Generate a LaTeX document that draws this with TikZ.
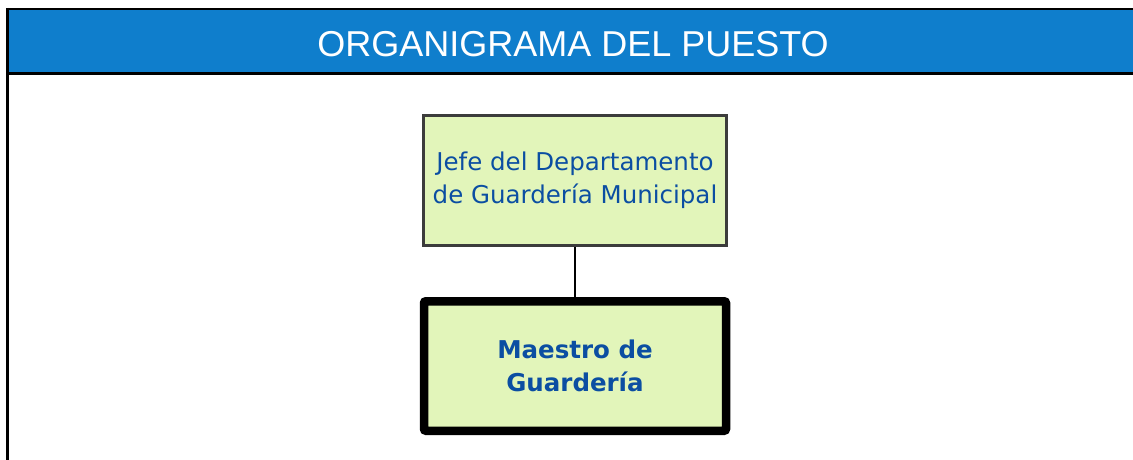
\documentclass[tikz,border=0pt]{standalone}
\usepackage{fontspec}
\setmainfont{Liberation Sans}
\newfontfamily\cajafont{DejaVu Sans}
\definecolor{azulhead}{HTML}{0F7ECC}
\definecolor{verdecaja}{HTML}{E2F5BA}
\definecolor{azultexto}{HTML}{0B4EA2}
\definecolor{grisborde}{HTML}{3C3C3C}

\begin{document}
\begin{tikzpicture}
[
    x=1pt, y=-1pt,
    level 1/.style={level distance=186pt},
    jefebox/.style={draw=grisborde, line width=3pt, fill=verdecaja, inner sep=0pt,
        minimum width=302.7pt, minimum height=130pt, align=center,
        text=azultexto, font=\cajafont\fontsize{24.5}{32.5}\selectfont},
    maestrobox/.style={draw=black, line width=8.5pt, fill=verdecaja, inner sep=0pt,
        rounded corners=2pt, minimum width=302pt, minimum height=129.5pt, align=center,
        text=azultexto, font=\cajafont\bfseries\fontsize{24.5}{32.5}\selectfont},
    edge from parent/.style={draw, black, line width=2.5pt},
]
\useasboundingbox (0,0) rectangle (1133,460);
% encabezado
\fill[azulhead] (8,9) rectangle (1133,73);
\draw[line width=2.5pt] (7.7,9) -- (1133,9);
\draw[line width=2.5pt] (7.7,73.3) -- (1133,73.3);
\draw[line width=2.5pt] (7.7,7.8) -- (7.7,460);
\node[anchor=base, text=white, font=\fontsize{36}{40}\selectfont] (titulo) at (573,56.5)
{ORGANIGRAMA DEL PUESTO};
% organigrama
\node [jefebox] (jefe) at (575,180)
{Jefe del Departamento\\de Guardería Municipal}
    child {node[maestrobox] (maestro)
{Maestro de\\Guardería}
};
\end{tikzpicture}
\end{document}
